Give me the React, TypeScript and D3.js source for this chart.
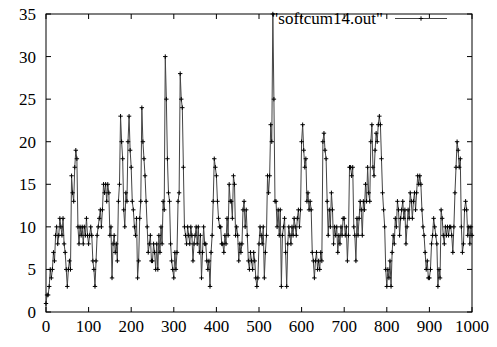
import React, { useEffect, useRef } from "react";
import * as d3 from "d3";

// sampled every 2.5 units on x
const step = 2.5;
const values = [
  1, 2, 2, 3, 5, 4, 5, 7, 6, 9, 10, 8, 9, 11, 10, 9, 11, 8, 7, 5,
  3, 5, 6, 5, 16, 14, 13, 17, 19, 18, 10, 8, 10, 9, 10, 8, 10, 9, 11, 9,
  8, 9, 10, 9, 6, 5, 3, 6, 9, 10, 11, 12, 10, 12, 15, 14, 15, 13, 15, 14,
  9, 10, 4, 8, 9, 7, 8, 6, 13, 15, 23, 20, 18, 12, 10, 14, 13, 20, 23, 19,
  17, 13, 12, 10, 9, 11, 4, 6, 11, 13, 24, 20, 18, 16, 13, 10, 7, 8, 9, 6,
  6, 8, 7, 5, 8, 5, 9, 7, 10, 8, 13, 12, 30, 25, 18, 14, 13, 8, 6, 5,
  4, 7, 5, 7, 13, 14, 28, 25, 24, 17, 10, 9, 8, 10, 9, 8, 10, 9, 6, 8,
  9, 10, 8, 10, 7, 9, 4, 7, 10, 8, 8, 6, 5, 6, 3, 7, 9, 13, 18, 17,
  16, 13, 11, 10, 10, 8, 8, 7, 9, 8, 11, 9, 15, 13, 13, 11, 16, 15, 9, 10,
  9, 6, 8, 7, 8, 12, 13, 10, 12, 9, 6, 5, 7, 6, 5, 7, 6, 4, 3, 4,
  8, 10, 9, 8, 10, 4, 7, 9, 16, 14, 16, 22, 20, 35, 25, 13, 13, 10, 12, 9,
  12, 3, 9, 10, 11, 7, 3, 8, 10, 9, 8, 10, 9, 11, 10, 9, 11, 12, 10, 12,
  20, 22, 19, 17, 18, 13, 14, 12, 13, 12, 7, 6, 4, 6, 7, 5, 6, 5, 7, 6,
  20, 21, 19, 18, 13, 9, 12, 10, 14, 12, 8, 10, 9, 10, 7, 9, 8, 10, 9, 11,
  11, 9, 10, 6, 9, 17, 17, 16, 17, 10, 9, 6, 11, 9, 11, 13, 12, 9, 13, 12,
  15, 13, 17, 14, 13, 20, 22, 17, 16, 19, 21, 20, 22, 23, 22, 18, 14, 12, 10, 5,
  3, 5, 4, 6, 3, 7, 9, 8, 11, 10, 13, 12, 9, 11, 12, 13, 11, 12, 8, 10,
  12, 11, 14, 13, 11, 13, 14, 12, 14, 16, 15, 16, 15, 12, 10, 9, 7, 5, 6, 4,
  4, 5, 8, 9, 11, 10, 9, 8, 3, 5, 4, 12, 11, 9, 8, 10, 9, 10, 9, 10,
  10, 9, 7, 10, 14, 17, 20, 19, 17, 18, 10, 7, 8, 12, 13, 12, 9, 10, 8, 10, 9,
];
const xTicks = [0, 100, 200, 300, 400, 500, 600, 700, 800, 900, 1000];
const yTicks = [0, 5, 10, 15, 20, 25, 30, 35];
const legendLabel = '"softcum14.out"';

export default function App() {
  const svgRef = useRef<SVGSVGElement>(null);

  useEffect(() => {
    const width = 497;
    const height = 347;
    const left = 46;
    const right = 472;
    const top = 14;
    const bottom = 312;

    const svg = d3.select(svgRef.current);
    svg.selectAll("*").remove();

    const data = values.map((v, i) => ({ x: i * step, y: v }));

    const x = d3.scaleLinear().domain([0, 1000]).range([left, right]);
    const y = d3.scaleLinear().domain([0, 35]).range([bottom, top]);

    const font = '"Liberation Serif", "Times New Roman", "DejaVu Serif", serif';
    const tick = 5;

    // frame
    svg
      .append("rect")
      .attr("x", left)
      .attr("y", top)
      .attr("width", right - left)
      .attr("height", bottom - top)
      .attr("fill", "none")
      .attr("stroke", "#000")
      .attr("stroke-width", 1);

    // ticks, mirrored on both sides
    const g = svg.append("g").attr("stroke", "#000").attr("stroke-width", 1);
    xTicks.forEach((t) => {
      g.append("line").attr("x1", x(t)).attr("x2", x(t)).attr("y1", bottom).attr("y2", bottom - tick);
      g.append("line").attr("x1", x(t)).attr("x2", x(t)).attr("y1", top).attr("y2", top + tick);
    });
    yTicks.forEach((t) => {
      g.append("line").attr("x1", left).attr("x2", left + tick).attr("y1", y(t)).attr("y2", y(t));
      g.append("line").attr("x1", right).attr("x2", right - tick).attr("y1", y(t)).attr("y2", y(t));
    });

    svg
      .append("g")
      .selectAll("text")
      .data(xTicks)
      .join("text")
      .attr("x", (d) => x(d))
      .attr("y", bottom + 20)
      .attr("text-anchor", "middle")
      .style("font-family", font)
      .style("font-size", "17px")
      .text((d) => d);

    svg
      .append("g")
      .selectAll("text")
      .data(yTicks)
      .join("text")
      .attr("x", left - 10)
      .attr("y", (d) => y(d))
      .attr("dy", "0.35em")
      .attr("text-anchor", "end")
      .style("font-family", font)
      .style("font-size", "17px")
      .text((d) => d);

    const line = d3
      .line<{ x: number; y: number }>()
      .x((d) => x(d.x))
      .y((d) => y(d.y));

    svg
      .append("path")
      .datum(data)
      .attr("d", line)
      .attr("fill", "none")
      .attr("stroke", "#444")
      .attr("stroke-width", 1);

    const cs = 2.2;
    svg
      .append("g")
      .attr("stroke", "#000")
      .attr("stroke-width", 1)
      .selectAll("path")
      .data(data)
      .join("path")
      .attr(
        "d",
        (d) =>
          `M${x(d.x) - cs},${y(d.y)}H${x(d.x) + cs}M${x(d.x)},${y(d.y) - cs}V${y(d.y) + cs}`
      );

    // legend
    const ly = 18.5;
    svg
      .append("text")
      .attr("x", 383)
      .attr("y", ly)
      .attr("dy", "0.35em")
      .attr("text-anchor", "end")
      .style("font-family", font)
      .style("font-size", "17px")
      .text(legendLabel);
    svg
      .append("line")
      .attr("x1", 395)
      .attr("x2", 447)
      .attr("y1", ly)
      .attr("y2", ly)
      .attr("stroke", "#444");
    svg
      .append("path")
      .attr("d", `M${421 - cs},${ly}H${421 + cs}M421,${ly - cs}V${ly + cs}`)
      .attr("stroke", "#000");

    svg.attr("width", width).attr("height", height);
  }, []);

  return (
    <svg
      ref={svgRef}
      style={{ position: "absolute", left: 0, top: 0, background: "#fff" }}
    />
  );
}
